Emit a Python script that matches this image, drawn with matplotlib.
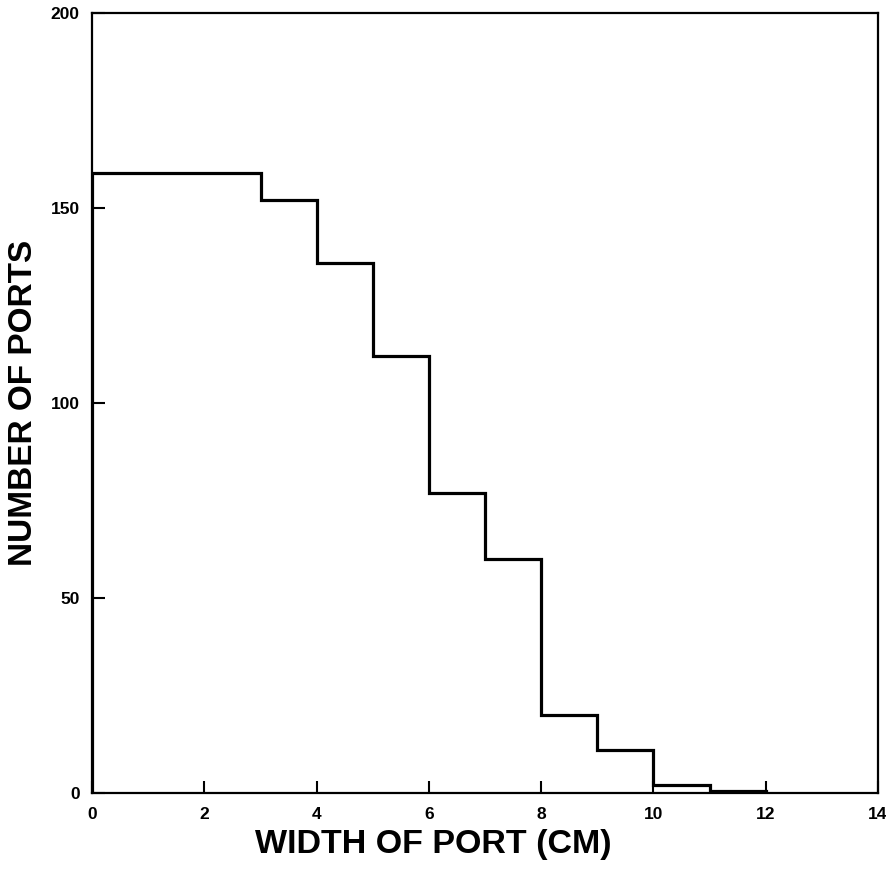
import matplotlib
matplotlib.use("Agg")
import matplotlib.pyplot as plt

# port width bins (cm) and number of ports at least that wide
bin_edges = [0, 3, 4, 5, 6, 7, 8, 9, 10, 11, 12]
num_ports = [159, 152, 136, 112, 77, 60, 20, 11, 2, 0.5]

x_ticks = [0, 2, 4, 6, 8, 10, 12, 14]
y_ticks = [0, 50, 100, 150, 200]

plt.rcParams['font.family'] = ['Liberation Sans', 'DejaVu Sans']

fig = plt.figure(figsize=(8.86, 8.75), dpi=100)
ax = fig.add_axes([0.104, 0.094, 0.887, 0.891])

ax.stairs(num_ports, bin_edges, color='black', linewidth=2.3)

ax.set_xlim(0, 14)
ax.set_ylim(0, 200)
ax.set_xticks(x_ticks)
ax.set_yticks(y_ticks)
ax.tick_params(direction='in', length=9, width=1.5, labelsize=12.5, pad=9)
ax.tick_params(axis='x', pad=10)
for lab in ax.get_xticklabels() + ax.get_yticklabels():
    lab.set_fontweight('bold')
for s in ax.spines.values():
    s.set_linewidth(1.6)

ax.set_xlabel('WIDTH OF PORT (CM)', fontsize=24.5, fontweight='bold', labelpad=3)
ax.xaxis.set_label_coords(0.434, -0.047)
ax.set_ylabel('NUMBER OF PORTS', fontsize=24, fontweight='bold', labelpad=8)

fig.savefig('out.png', dpi=100)
